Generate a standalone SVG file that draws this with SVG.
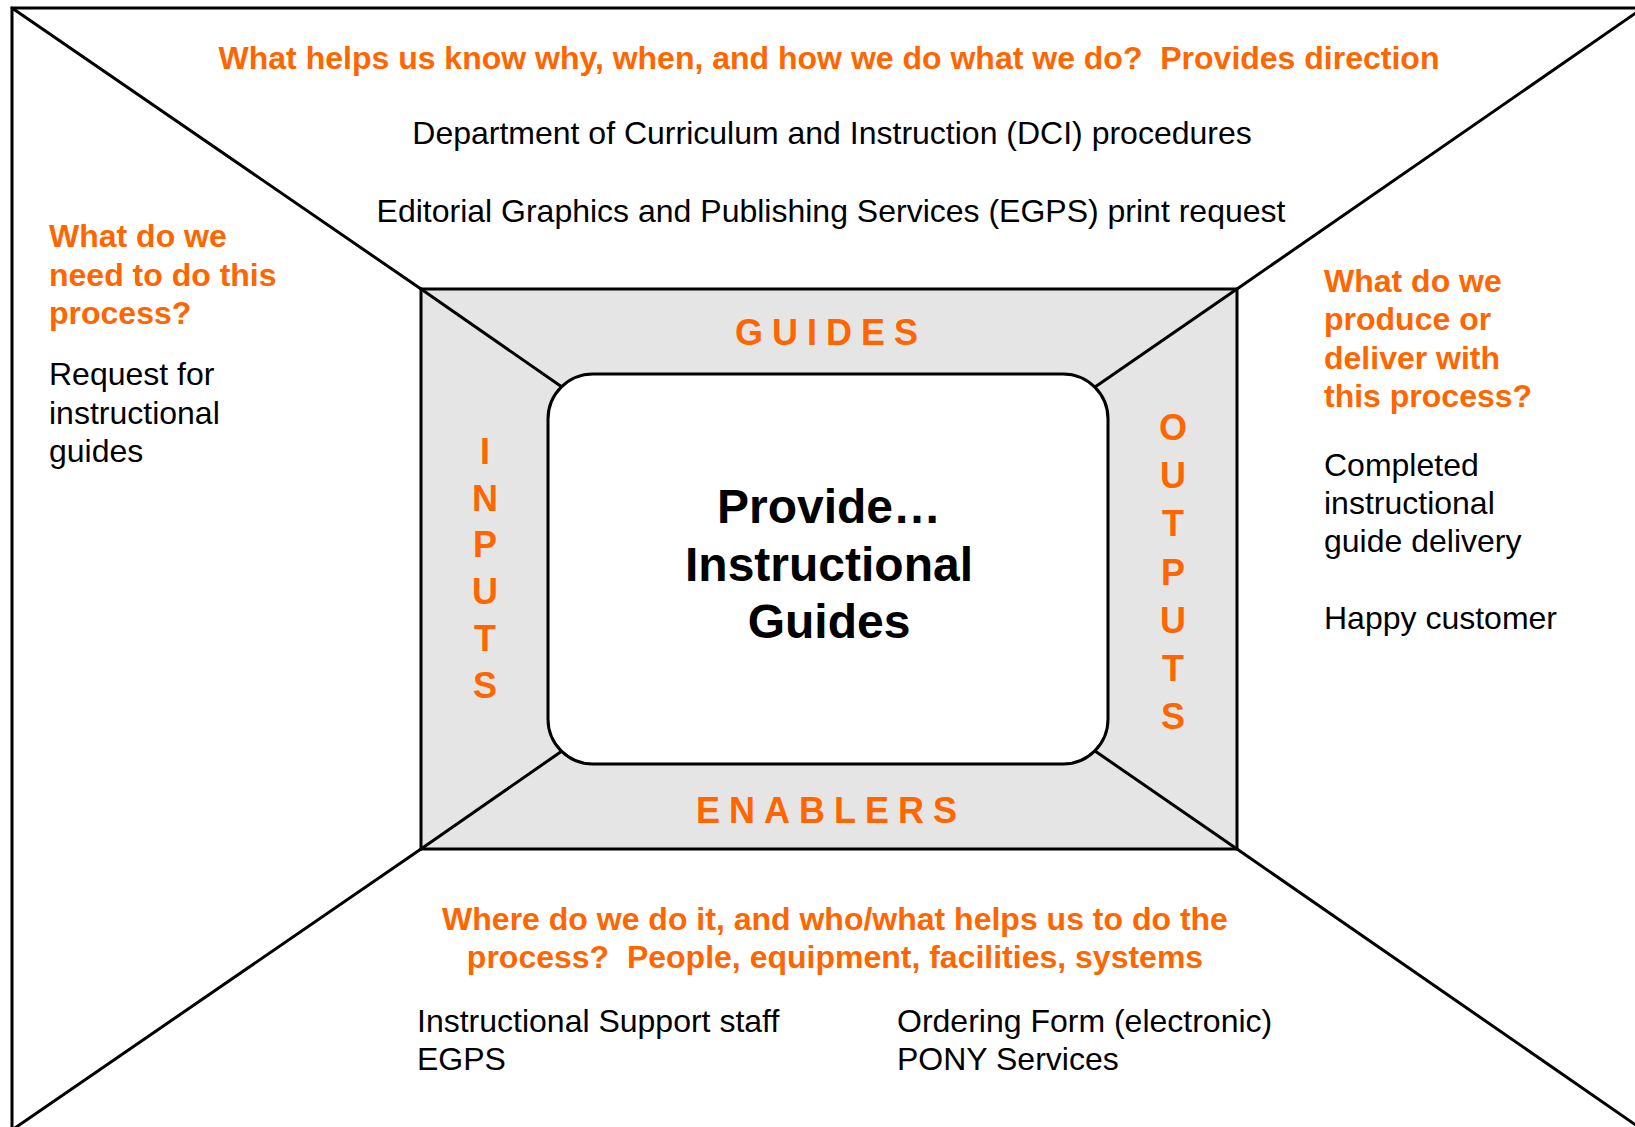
<svg xmlns="http://www.w3.org/2000/svg" width="1635" height="1127" viewBox="0 0 1635 1127">
<style>
.ln{stroke:#000;stroke-width:3;fill:none;stroke-linecap:round}
.q{font-family:"Liberation Sans",Arial,sans-serif;font-weight:bold;font-size:32px;fill:#FF6600}
.t{font-family:"Liberation Sans",Arial,sans-serif;font-size:32px;fill:#000}
.lab{font-family:"Liberation Sans",Arial,sans-serif;font-weight:bold;font-size:36px;fill:#FF6600}
.ctr{font-family:"Liberation Sans",Arial,sans-serif;font-weight:bold;font-size:48px;fill:#000}
</style>
<rect x="0" y="0" width="1635" height="1127" fill="#fff"/>
<g id="frame">
<rect x="12" y="8" width="1631" height="1122" fill="#fff" stroke="#000" stroke-width="3"/>
</g>
<g id="process-box">
<rect x="421" y="289" width="816" height="560" fill="#E5E5E5" stroke="#000" stroke-width="3"/>
</g>
<g id="connectors">
<line class="ln" x1="12" y1="8" x2="421" y2="289"/>
<line class="ln" x1="1643" y1="8" x2="1237" y2="289"/>
<line class="ln" x1="12" y1="1130" x2="421" y2="849"/>
<line class="ln" x1="1643" y1="1130" x2="1237" y2="849"/>
<line class="ln" x1="421" y1="289" x2="562" y2="387"/>
<line class="ln" x1="1237" y1="289" x2="1095" y2="387"/>
<line class="ln" x1="421" y1="849" x2="562" y2="751"/>
<line class="ln" x1="1237" y1="849" x2="1095" y2="751"/>
</g>
<g id="center">
<rect x="548" y="374" width="560" height="390" rx="45" ry="45" fill="#fff" stroke="#000" stroke-width="3"/>
<text class="ctr" text-anchor="middle" x="829" y="523">Provide…</text>
<text class="ctr" text-anchor="middle" x="829" y="581">Instructional</text>
<text class="ctr" text-anchor="middle" x="829" y="638">Guides</text>
</g>
<g id="guides-label">
<text class="lab" text-anchor="middle" x="831" y="345" letter-spacing="9">GUIDES</text>
</g>
<g id="enablers-label">
<text class="lab" text-anchor="middle" x="831" y="823" letter-spacing="9">ENABLERS</text>
</g>
<g id="inputs-label" class="lab" text-anchor="middle">
<text class="lab" x="485" y="464">I</text>
<text class="lab" x="485" y="511">N</text>
<text class="lab" x="485" y="557">P</text>
<text class="lab" x="485" y="604">U</text>
<text class="lab" x="485" y="651">T</text>
<text class="lab" x="485" y="698">S</text>
</g>
<g id="outputs-label" class="lab" text-anchor="middle">
<text class="lab" x="1173" y="440">O</text>
<text class="lab" x="1173" y="488">U</text>
<text class="lab" x="1173" y="536">T</text>
<text class="lab" x="1173" y="585">P</text>
<text class="lab" x="1173" y="633">U</text>
<text class="lab" x="1173" y="681">T</text>
<text class="lab" x="1173" y="729">S</text>
</g>
<g id="guides-text">
<text class="q" text-anchor="middle" x="829" y="69" xml:space="preserve">What helps us know why, when, and how we do what we do?  Provides direction</text>
<text class="t" text-anchor="middle" x="832" y="144">Department of Curriculum and Instruction (DCI) procedures</text>
<text class="t" text-anchor="middle" x="831" y="222">Editorial Graphics and Publishing Services (EGPS) print request</text>
</g>
<g id="inputs-text">
<text class="q" x="49" y="247">What do we</text>
<text class="q" x="49" y="286">need to do this</text>
<text class="q" x="49" y="324">process?</text>
<text class="t" x="49" y="385">Request for</text>
<text class="t" x="49" y="424">instructional</text>
<text class="t" x="49" y="462">guides</text>
</g>
<g id="outputs-text">
<text class="q" x="1324" y="292">What do we</text>
<text class="q" x="1324" y="330">produce or</text>
<text class="q" x="1324" y="369">deliver with</text>
<text class="q" x="1324" y="407">this process?</text>
<text class="t" x="1324" y="476">Completed</text>
<text class="t" x="1324" y="514">instructional</text>
<text class="t" x="1324" y="552">guide delivery</text>
<text class="t" x="1324" y="629">Happy customer</text>
</g>
<g id="enablers-text">
<text class="q" text-anchor="middle" x="835" y="930">Where do we do it, and who/what helps us to do the</text>
<text class="q" text-anchor="middle" x="835" y="968" xml:space="preserve">process?  People, equipment, facilities, systems</text>
<text class="t" x="417" y="1032">Instructional Support staff</text>
<text class="t" x="417" y="1070">EGPS</text>
<text class="t" x="897" y="1032">Ordering Form (electronic)</text>
<text class="t" x="897" y="1070">PONY Services</text>
</g>
</svg>
